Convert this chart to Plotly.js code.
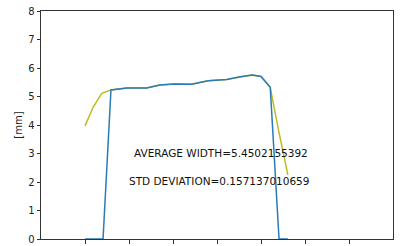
<!DOCTYPE html>
<html>
<head>
<meta charset="utf-8">
<script src="https://cdn.plot.ly/plotly-3.0.1.min.js"></script>
<style>html,body{margin:0;padding:0;background:#fff;}#chart{width:404px;height:246px;}</style>
</head>
<body>
<div id="chart"></div>
<script>
// Raw width profile (yellow) and thresholded profile (blue)
const rawX = [1.0, 1.19, 1.38, 1.59, 1.95, 2.40, 2.70, 3.03, 3.42, 3.80, 4.22, 4.52, 4.80, 5.00, 5.21, 5.39, 5.61];
const rawY = [3.97, 4.64, 5.11, 5.23, 5.30, 5.30, 5.40, 5.44, 5.43, 5.55, 5.60, 5.69, 5.75, 5.70, 5.32, 3.88, 2.25];
const cutX = [1.0, 1.41, 1.59, 1.95, 2.40, 2.70, 3.03, 3.42, 3.80, 4.22, 4.52, 4.80, 5.00, 5.21, 5.41, 5.61];
const cutY = [0, 0, 5.23, 5.30, 5.30, 5.40, 5.44, 5.43, 5.55, 5.60, 5.69, 5.75, 5.70, 5.32, 0, 0];
const yTicks = [0, 1, 2, 3, 4, 5, 6, 7, 8];
const xTicks = [1, 2, 3, 4, 5, 6, 7];
const avgText = "AVERAGE WIDTH=5.4502155392";
const stdText = "STD DEVIATION=0.157137010659";

const traces = [
  {x: rawX, y: rawY, mode: 'lines', line: {color: '#bcbd22', width: 1.5}, hoverinfo: 'skip'},
  {x: cutX, y: cutY, mode: 'lines', line: {color: '#2a7bb8', width: 1.5}, hoverinfo: 'skip'}
];
const axisCommon = {
  showline: true, linecolor: '#333', linewidth: 1, mirror: true,
  ticks: 'outside', ticklen: 3.5, tickcolor: '#333', tickwidth: 1,
  showgrid: false, zeroline: false,
  tickfont: {family: 'DejaVu Sans', size: 10, color: '#222'}
};
const layout = {
  width: 404, height: 246,
  margin: {l: 41, r: 11, t: 11, b: 7},
  paper_bgcolor: '#fff', plot_bgcolor: '#fff',
  showlegend: false,
  xaxis: Object.assign({}, axisCommon, {range: [0, 8], tickvals: xTicks, showticklabels: false}),
  yaxis: Object.assign({}, axisCommon, {range: [0, 8], tickvals: yTicks,
    title: {text: '[mm]', font: {family: 'DejaVu Sans', size: 10, color: '#222'}, standoff: 3}}),
  annotations: [
    {x: 2.06, y: 3.03, xref: 'x', yref: 'y', text: avgText, showarrow: false, xanchor: 'left', yanchor: 'middle',
     font: {family: 'DejaVu Sans', size: 10.5, color: '#111'}},
    {x: 1.95, y: 2.05, xref: 'x', yref: 'y', text: stdText, showarrow: false, xanchor: 'left', yanchor: 'middle',
     font: {family: 'DejaVu Sans', size: 10.5, color: '#111'}}
  ]
};
Plotly.newPlot('chart', traces, layout, {displayModeBar: false, staticPlot: true});
</script>
</body>
</html>
